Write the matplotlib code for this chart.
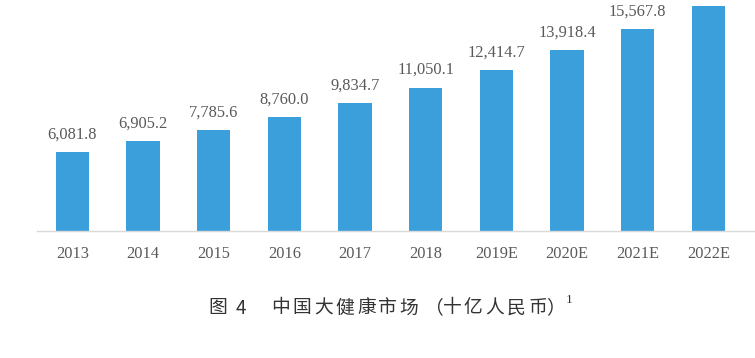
import matplotlib
matplotlib.use('Agg')
import matplotlib.pyplot as plt

years = ['2013', '2014', '2015', '2016', '2017', '2018', '2019E', '2020E', '2021E', '2022E']
market = [6081.8, 6905.2, 7785.6, 8760.0, 9834.7, 11050.1, 12414.7, 13918.4, 15567.8, 17370.0]
# the 2022E value label lies above the top edge in the reference, so it is not shown
labels = ['6,081.8', '6,905.2', '7,785.6', '8,760.0', '9,834.7', '11,050.1',
          '12,414.7', '13,918.4', '15,567.8']
fig_no = ['图', '4']
caption = '中国大健康市场（十亿人民币）'
note = '1'

bar_color = '#3A9FDB'
text_color = '#595959'
cjk = ['Noto Sans CJK SC', 'DejaVu Sans']

fig = plt.figure(figsize=(7.55, 3.58), dpi=100)
ax = fig.add_axes([0.049, 0.3547, 0.951, 0.7246])

x = list(range(len(years)))
ax.bar(x, market, width=0.47, color=bar_color, zorder=2)

for xi, v, lab in zip(x, market, labels):
    ax.annotate(lab, (xi, v), xytext=(0, 7), textcoords='offset points',
                ha='center', va='bottom', fontsize=11.8, color=text_color,
                family='Liberation Serif')

ax.set_xlim(-0.5, 9.66)
ax.set_ylim(0, 20000)
ax.set_xticks(x)
ax.set_xticklabels(years, fontsize=11.8, color=text_color, family='Liberation Serif')
ax.tick_params(axis='x', length=0, pad=11)
ax.set_yticks([])
for s in ['top', 'right', 'left']:
    ax.spines[s].set_visible(False)
ax.spines['bottom'].set_color('#D9D9D9')
ax.spines['bottom'].set_linewidth(1)

# caption, letter-spaced like the original
cap_y = 1 - 308 / 358
fs = 13.5
fig.text(208 / 755, cap_y, fig_no[0], fontsize=fs, color='#333333',
         family=cjk, va='center', ha='left')
fig.text(236 / 755, cap_y, fig_no[1], fontsize=fs, color='#333333',
         family=cjk, va='center', ha='left')
pitch = 21.4
em = fs * 100 / 72
for i, ch in enumerate(caption):
    cx = 270 + i * pitch + pitch / 2
    # full-width brackets sit at one side of their cell
    if ch == '（':
        cx += 0.2 * em
    elif ch == '）':
        cx -= 0.2 * em
    fig.text(cx / 755, cap_y, ch, fontsize=fs, color='#333333',
             family=cjk, va='center', ha='center')
fig.text(566 / 755, 1 - 300 / 358, note, fontsize=9.5, color='#333333',
         family='Liberation Serif', va='center', ha='left')

fig.savefig('out.png', dpi=100)
